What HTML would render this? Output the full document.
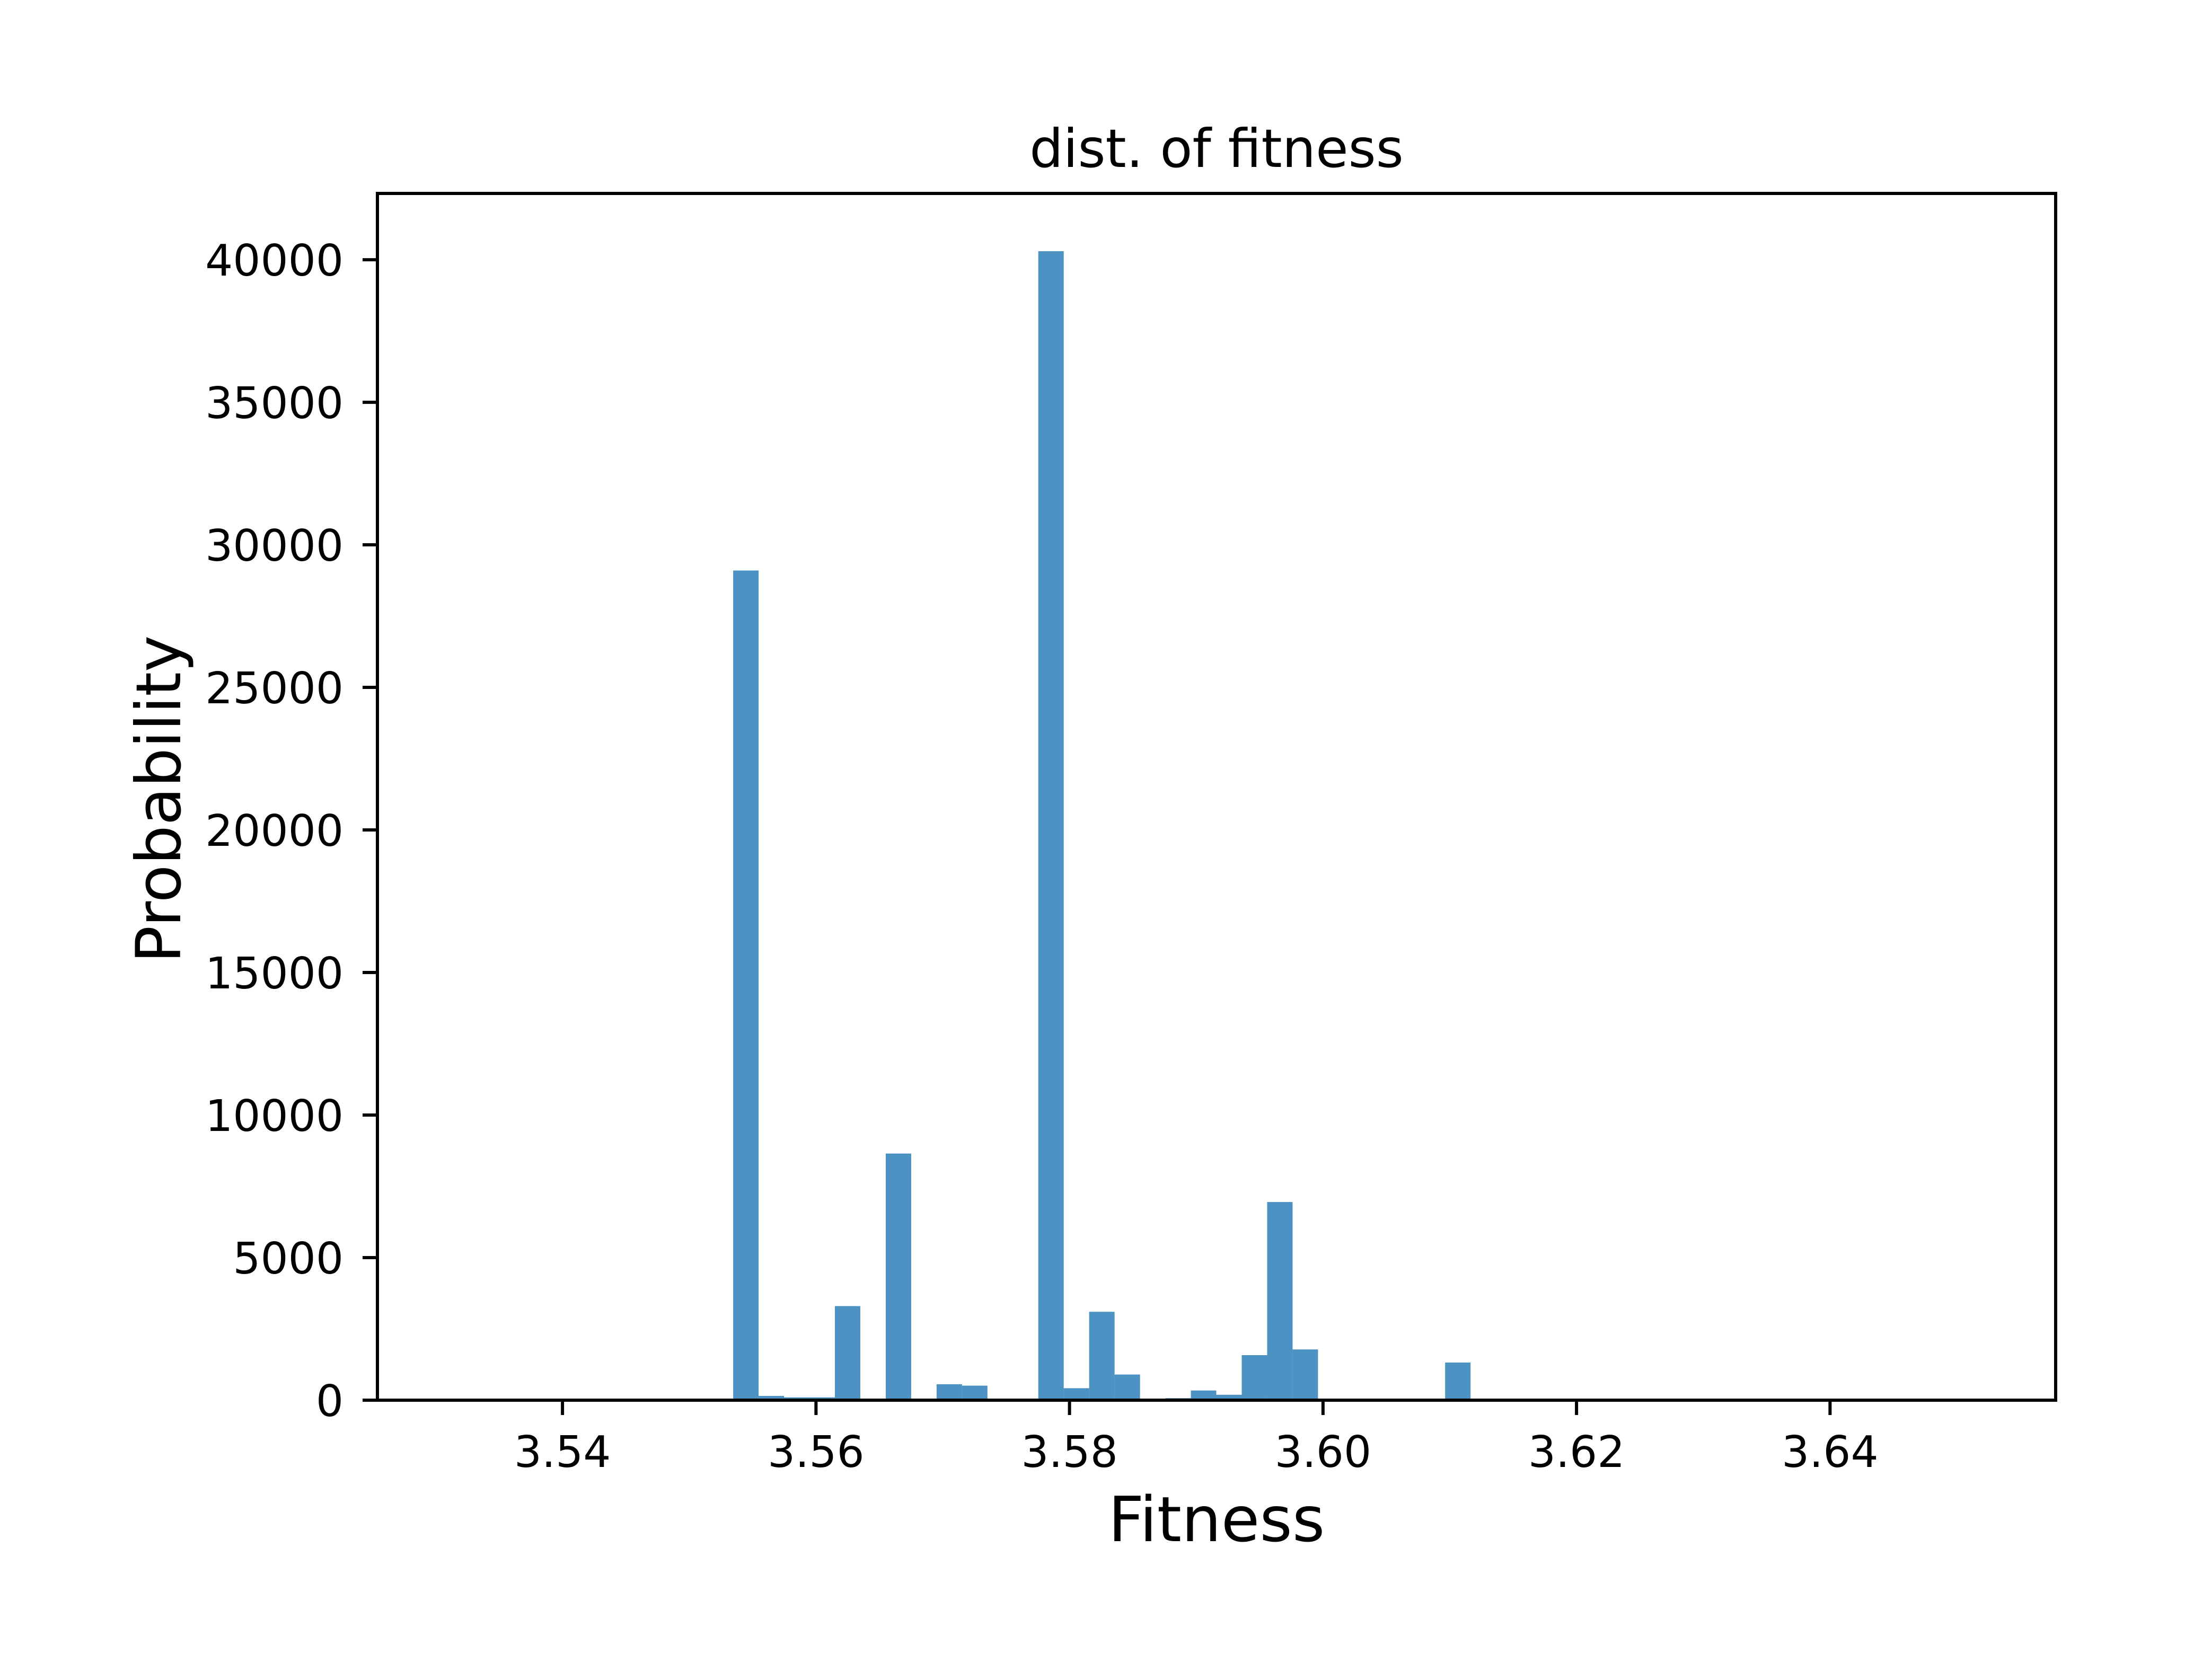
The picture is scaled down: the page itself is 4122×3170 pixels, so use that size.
<!DOCTYPE html>
<html><head><meta charset="utf-8"><style>html,body{margin:0;padding:0;background:#fff}svg{display:block}text{font-family:"DejaVu Sans","Liberation Sans",sans-serif;fill:#000}</style></head>
<body>
<svg id="chart" width="4122" height="3170" viewBox="0 0 4122 3170" xmlns="http://www.w3.org/2000/svg">
<rect width="4122" height="3170" fill="#fff"/>
<text x="2295" y="315" font-size="100" text-anchor="middle">dist. of fitness</text>
<g id="bars"></g>
<g id="xticks"></g>
<g id="yticks"></g>
<rect x="712" y="365" width="3166" height="2277" fill="none" stroke="#000" stroke-width="6"/>
<text x="2295" y="2908" font-size="118" text-anchor="middle">Fitness</text>
<text x="0" y="0" font-size="117" text-anchor="middle" transform="translate(340,1508) rotate(-90)">Probability</text>
</svg>
<script>
const binStart = 3.5314;
const binWidth = 0.002006;
const counts = [0,0,0,0,0,0,0,0,0,0,0,29100,150,100,100,3300,0,8650,0,560,510,0,50,40300,420,3100,900,0,70,340,190,1580,6950,1780,0,0,0,0,0,1320,0,0,0,0,0,0,0,0,0,0,0,0,0,0,0,0,0,0,0,0];
const xTickValues = [3.54,3.56,3.58,3.60,3.62,3.64];
const xTickLabels = ["3.54","3.56","3.58","3.60","3.62","3.64"];
const yTickValues = [0,5000,10000,15000,20000,25000,30000,35000,40000];
const yTickLabels = ["0","5000","10000","15000","20000","25000","30000","35000","40000"];

const L=712,R=3878,T=365,B=2642;
const xMin=3.5254,xMax=3.6578,yMax=42325;
const sx=v=>L+(v-xMin)/(xMax-xMin)*(R-L);
const sy=v=>B-v/yMax*(B-T);
const NS="http://www.w3.org/2000/svg";
const bars=document.getElementById('bars');
counts.forEach((c,i)=>{
  if(c<=0) return;
  const x0=sx(binStart+i*binWidth), x1=sx(binStart+(i+1)*binWidth);
  const r=document.createElementNS(NS,'rect');
  r.setAttribute('x',x0);r.setAttribute('width',x1-x0);
  r.setAttribute('y',sy(c));r.setAttribute('height',B-sy(c));
  r.setAttribute('fill','#4c92c3');
  
  
  bars.appendChild(r);
});
const xg=document.getElementById('xticks');
xTickValues.forEach((v,i)=>{
  const x=sx(v);
  const l=document.createElementNS(NS,'line');
  l.setAttribute('x1',x);l.setAttribute('x2',x);l.setAttribute('y1',B);l.setAttribute('y2',B+28);
  l.setAttribute('stroke','#000');l.setAttribute('stroke-width','6');
  
  
  xg.appendChild(l);
  const t=document.createElementNS(NS,'text');
  t.setAttribute('x',x);t.setAttribute('y',2768);t.setAttribute('font-size','82');t.setAttribute('text-anchor','middle');
  t.textContent=xTickLabels[i];
  
  
  xg.appendChild(t);
});
const yg=document.getElementById('yticks');
yTickValues.forEach((v,i)=>{
  const y=sy(v);
  const l=document.createElementNS(NS,'line');
  l.setAttribute('x1',L-28);l.setAttribute('x2',L);l.setAttribute('y1',y);l.setAttribute('y2',y);
  l.setAttribute('stroke','#000');l.setAttribute('stroke-width','6');
  
  
  yg.appendChild(l);
  const t=document.createElementNS(NS,'text');
  t.setAttribute('x',648);t.setAttribute('y',y+30);t.setAttribute('font-size','82');t.setAttribute('text-anchor','end');
  t.textContent=yTickLabels[i];
  
  
  yg.appendChild(t);
});
</script>
</body></html>
